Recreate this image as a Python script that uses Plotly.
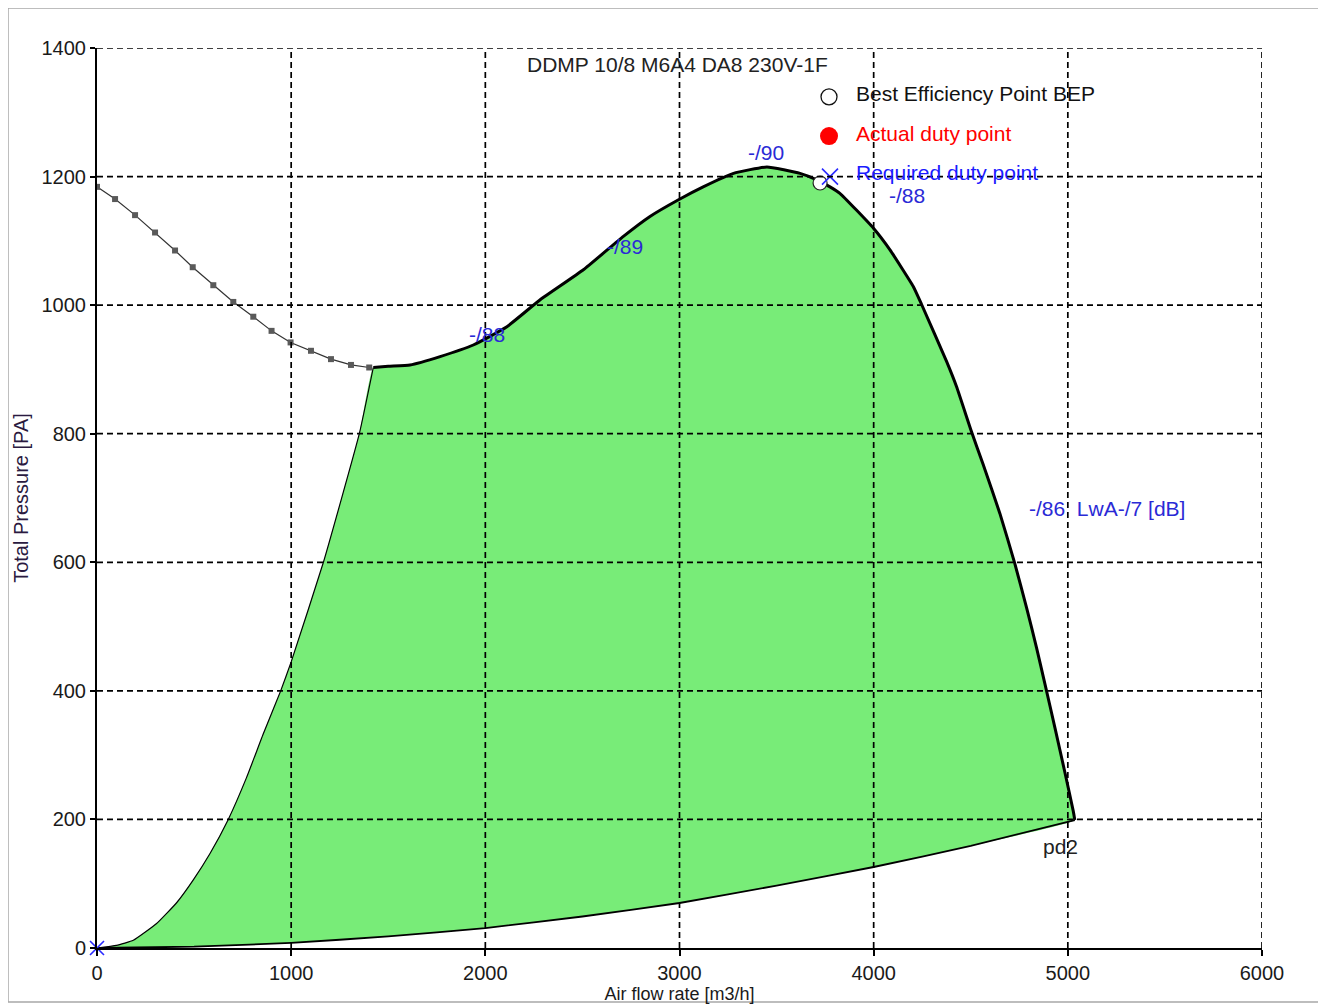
import plotly.graph_objects as go

# ---- data ----
x_ticks = [0, 1000, 2000, 3000, 4000, 5000, 6000]
y_ticks = [0, 200, 400, 600, 800, 1000, 1200, 1400]

# main fan curve (max speed), from left junction to end point
fan_q = [1423, 1500, 1612, 1767, 1938, 2109, 2281, 2505, 2711, 2848, 2995,
         3122, 3278, 3450, 3621, 3707, 3775, 3826, 3998, 4084, 4204, 4247, 4376,
         4427, 4504, 4564, 4650, 4727, 4787, 4839, 4882, 4934, 4985, 5028, 5036]
fan_p = [903, 905, 907, 920, 938, 966, 1008, 1055, 1107, 1138, 1164,
         1184, 1205, 1215, 1205, 1195, 1184, 1174, 1120, 1086, 1029, 1001, 912,
         873, 803, 752, 676, 598, 530, 467, 411, 342, 273, 213, 199]

# system curve (pd2), from end point back to origin
sys_q = [5036, 4500, 4000, 3500, 3000, 2500, 2000, 1500, 1000, 500, 0]
sys_p = [199, 159, 126, 97, 70, 49, 31, 18, 8, 2, 0]

# minimum curve (left boundary) from origin to junction
min_q = [0, 100, 187, 307, 409, 496, 582, 676, 770, 855, 946, 1000, 1166, 1351, 1423]
min_p = [0, 4, 12, 38, 70, 106, 147, 200, 265, 332, 400, 445, 600, 800, 903]

# grey unstable part of the curve (square markers)
grey_q = [0, 93, 196, 299, 402, 493, 599, 702, 805, 899, 997, 1102, 1205, 1308, 1402]
grey_p = [1184, 1165, 1140, 1113, 1085, 1059, 1031, 1005, 982, 960, 942, 929, 916, 907, 903]

bep_q, bep_p = [3724], [1190]
req_q, req_p = [3775], [1200]
origin_q, origin_p = [0], [0]

legend_labels = ["Best Efficiency Point BEP", "Actual duty point", "Required duty point"]
legend_q = [3770, 3770, 3770]
legend_p = [1324, 1263, 1201]
legend_colors = ["#111111", "#ff0000", "#1a1aff"]

noise_labels = ["-/90", "-/89", "-/88", "-/88", "-/86\u00a0\u00a0LwA-/7 [dB]"]
noise_q = [3445, 2719, 2008, 4171, 4790]
noise_p = [1238, 1092, 955, 1170, 683]
noise_anchor = ["center", "center", "center", "center", "left"]

title_text = "DDMP 10/8 M6A4 DA8 230V-1F"
pd2_label = "pd2"

FONT = "Liberation Sans, Arial, sans-serif"
BLUE = "#2a2ad6"

fig = go.Figure()

# green operating area
poly_q = min_q + fan_q[1:] + sys_q[1:]
poly_p = min_p + fan_p[1:] + sys_p[1:]
fig.add_trace(go.Scatter(x=poly_q, y=poly_p, fill="toself", fillcolor="#78ec78",
                         mode="lines", line=dict(width=0, shape="spline", smoothing=0.4),
                         hoverinfo="skip", showlegend=False))

# boundary lines
fig.add_trace(go.Scatter(x=min_q, y=min_p, mode="lines",
                         line=dict(color="black", width=1.2, shape="spline", smoothing=0.4),
                         showlegend=False))
fig.add_trace(go.Scatter(x=sys_q, y=sys_p, mode="lines",
                         line=dict(color="black", width=1.8, shape="spline", smoothing=0.4),
                         showlegend=False))
fig.add_trace(go.Scatter(x=fan_q, y=fan_p, mode="lines",
                         line=dict(color="black", width=3, shape="spline", smoothing=0.4),
                         showlegend=False))
fig.add_trace(go.Scatter(x=grey_q, y=grey_p, mode="lines+markers",
                         line=dict(color="#333333", width=1.2),
                         marker=dict(symbol="square", size=6, color="#5a5a5a"),
                         showlegend=False))

# points
fig.add_trace(go.Scatter(x=bep_q, y=bep_p, mode="markers",
                         marker=dict(symbol="circle", size=14, color="white",
                                     line=dict(color="#222222", width=1.2)),
                         showlegend=False, cliponaxis=False))
fig.add_trace(go.Scatter(x=origin_q, y=origin_p, mode="markers",
                         marker=dict(symbol="x-thin", size=14,
                                     line=dict(color="#2a2aff", width=1.6)),
                         showlegend=False, cliponaxis=False))

# legend-like markers
fig.add_trace(go.Scatter(x=[legend_q[0]], y=[legend_p[0]], mode="markers",
                         marker=dict(symbol="circle", size=16, color="white",
                                     line=dict(color="#111111", width=1.3)),
                         showlegend=False, cliponaxis=False))
fig.add_trace(go.Scatter(x=[legend_q[1]], y=[legend_p[1]], mode="markers",
                         marker=dict(symbol="circle", size=18, color="#ff0000"),
                         showlegend=False, cliponaxis=False))
fig.add_trace(go.Scatter(x=req_q, y=req_p, mode="markers",
                         marker=dict(symbol="x-thin", size=16,
                                     line=dict(color="#2a2aff", width=1.6)),
                         showlegend=False, cliponaxis=False))

annotations = []
for lab, q, p, c in zip(legend_labels, legend_q, legend_p, legend_colors):
    annotations.append(dict(x=q, y=p, xref="x", yref="y", text=lab, showarrow=False,
                            xanchor="left", yanchor="middle", xshift=25, yshift=3,
                            font=dict(family=FONT, size=21, color=c)))
for lab, q, p, a in zip(noise_labels, noise_q, noise_p, noise_anchor):
    annotations.append(dict(x=q, y=p, xref="x", yref="y", text=lab, showarrow=False,
                            xanchor=a, yanchor="middle",
                            font=dict(family=FONT, size=21, color=BLUE)))
annotations.append(dict(x=sys_q[0], y=sys_p[0], xref="x", yref="y", text=pd2_label,
                        showarrow=False, xanchor="center", yanchor="top",
                        xshift=-14, yshift=-13,
                        font=dict(family=FONT, size=21, color="#222222")))
annotations.append(dict(x=3000, y=y_ticks[-1], xref="x", yref="y", text=title_text,
                        showarrow=False, xanchor="center", yanchor="top", yshift=-3,
                        xshift=-2, font=dict(family=FONT, size=21, color="#222222")))

# dashed grid drawn above the filled area
shapes = []
for xv in x_ticks[1:]:
    shapes.append(dict(type="line", xref="x", yref="y", x0=xv, x1=xv,
                       y0=y_ticks[0], y1=y_ticks[-1], layer="above",
                       line=dict(color="black", width=1.7, dash="6px,4px")))
for yv in y_ticks[1:]:
    shapes.append(dict(type="line", xref="x", yref="y", x0=x_ticks[0], x1=x_ticks[-1],
                       y0=yv, y1=yv, layer="above",
                       line=dict(color="black", width=1.7, dash="6px,4px")))
# outer frame
shapes.append(dict(type="rect", xref="paper", yref="paper",
                   x0=-0.0764, x1=1.0541, y0=-0.0600, y1=1.0444,
                   line=dict(color="#a8a8a8", width=1.5), layer="below"))

# page body has an 8px default margin, so the figure is offset by 8px
fig.update_layout(
    width=1318, height=996,
    margin=dict(l=89, r=64, t=40, b=56, autoexpand=False),
    paper_bgcolor="white", plot_bgcolor="white",
    font=dict(family=FONT, size=20, color="#1a1a1a"),
    annotations=annotations, shapes=shapes, showlegend=False,
    xaxis=dict(range=[x_ticks[0], x_ticks[-1]], tickvals=x_ticks, showgrid=False,
               zeroline=False, showline=True, linecolor="black", linewidth=2,
               ticks="outside", ticklen=6, tickwidth=1.5, tickcolor="black",
               automargin=False,
               tickfont=dict(size=20, family=FONT, color="#1a1a1a"),
               title=dict(text="Air flow rate [m3/h]", standoff=2,
                          font=dict(size=18, family=FONT, color="#1a1a1a"))),
    yaxis=dict(range=[y_ticks[0], y_ticks[-1]], tickvals=y_ticks, showgrid=False,
               zeroline=False, showline=True, linecolor="black", linewidth=2,
               ticks="outside", ticklen=5, tickwidth=1.5, tickcolor="black",
               automargin=False,
               tickfont=dict(size=20, family=FONT, color="#1a1a1a"),
               title=dict(text="Total Pressure [PA]", standoff=8,
                          font=dict(size=20, family=FONT, color="#2a1a40"))),
)

fig.write_html("out.html")
